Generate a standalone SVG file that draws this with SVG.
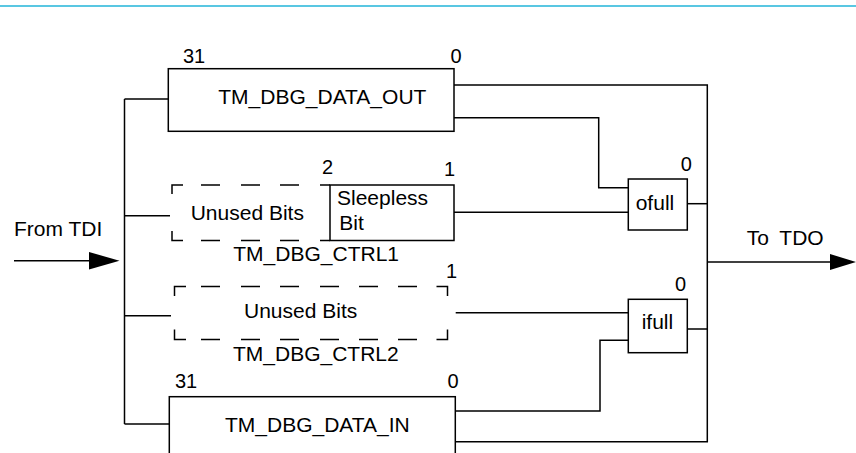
<svg xmlns="http://www.w3.org/2000/svg" width="856" height="453" viewBox="0 0 856 453">
<style>
  .ln{fill:none;stroke:#000;stroke-width:1.5}
  .box{fill:#fff;stroke:#000;stroke-width:1.5}
  .t{font-family:"Liberation Sans",Arial,sans-serif;font-size:21px;fill:#000}
  .d{font-family:"Liberation Sans",Arial,sans-serif;font-size:20px;fill:#000}
  .ah{fill:#000;stroke:none}
</style>
<rect width="856" height="453" fill="#fff"/>
<line x1="0" y1="6" x2="856" y2="6" stroke="#22b4d8" stroke-width="1.5"/>

<g id="connectors">
  <!-- input bus -->
  <path class="ln" d="M14,260.7 H92"/>
  <polygon class="ah" points="89,252 119.5,260.7 89,269.5"/>
  <path class="ln" d="M124.5,99 V424"/>
  <path class="ln" d="M124.5,99 H168"/>
  <path class="ln" d="M124.5,215.7 H170"/>
  <path class="ln" d="M124.5,315.7 H171"/>
  <path class="ln" d="M124.5,424 H169"/>
  <!-- output bus -->
  <path class="ln" d="M454,85 H707.3 V441.7 H455"/>
  <path class="ln" d="M454,117.7 H598.7 V187.7 H628"/>
  <path class="ln" d="M454,212.3 H628"/>
  <path class="ln" d="M687,203.7 H707.3"/>
  <path class="ln" d="M455.7,312.7 H628"/>
  <path class="ln" d="M455,411 H600 V340.3 H628"/>
  <path class="ln" d="M687,329 H707.3"/>
  <path class="ln" d="M707.3,262 H832"/>
  <polygon class="ah" points="830,254 856,262 830,270"/>
</g>

<g id="data_out">
  <rect class="box" x="168.3" y="68.7" width="285.7" height="62.6"/>
  <text class="t" x="218.3" y="104">TM_DBG_DATA_OUT</text>
  <text class="d" x="183" y="63">31</text>
  <text class="d" x="450.5" y="63">0</text>
</g>

<g id="ctrl1">
  <path class="ln" d="M172,194 V185 H183 M201,185 H220 M241,185 H260 M280,185 H299 M320,185 H330 M172,231 V240.5 H183 M201,240.5 H220 M241,240.5 H260 M280,240.5 H299 M320,240.5 H330"/>
  <rect class="box" x="330" y="185" width="124" height="55.5"/>
  <text class="t" x="190.7" y="220">Unused Bits</text>
  <text class="t" x="337" y="205">Sleepless</text>
  <text class="t" x="339.3" y="230">Bit</text>
  <text class="t" x="233.3" y="261">TM_DBG_CTRL1</text>
  <text class="d" x="322" y="174">2</text>
  <text class="d" x="444" y="176">1</text>
</g>

<g id="ctrl2">
  <path class="ln" d="M174.5,296 V286.5 H186 M201,286.5 H220 M241,286.5 H260 M280,286.5 H299 M320,286.5 H339 M359,286.5 H378 M398,286.5 H417 M436.5,286.5 H447.5 V296 M174.5,329.5 V339.5 H186 M201,339.5 H220 M241,339.5 H260 M280,339.5 H299 M320,339.5 H339 M359,339.5 H378 M398,339.5 H417 M436.5,339.5 H447.5 V329.5"/>
  <text class="t" x="244" y="317.5">Unused Bits</text>
  <text class="t" x="233" y="361">TM_DBG_CTRL2</text>
  <text class="d" x="446" y="278.3">1</text>
</g>

<g id="data_in">
  <rect class="box" x="169.3" y="396.7" width="286" height="63"/>
  <text class="t" x="225" y="431.7">TM_DBG_DATA_IN</text>
  <text class="d" x="175" y="388.3">31</text>
  <text class="d" x="447.5" y="388.3">0</text>
</g>

<g id="ofull">
  <rect class="box" x="628.3" y="179" width="59" height="51"/>
  <text class="t" x="635.7" y="210">ofull</text>
  <text class="d" x="680.7" y="171">0</text>
</g>

<g id="ifull">
  <rect class="box" x="628.3" y="299.3" width="59" height="53.4"/>
  <text class="t" x="641.7" y="329.3">ifull</text>
  <text class="d" x="675" y="290.7">0</text>
</g>

<g id="tdi">
  <text class="t" x="14" y="236">From TDI</text>
</g>
<g id="tdo">
  <text class="t" x="746.7" y="245" word-spacing="5">To TDO</text>
</g>
</svg>
